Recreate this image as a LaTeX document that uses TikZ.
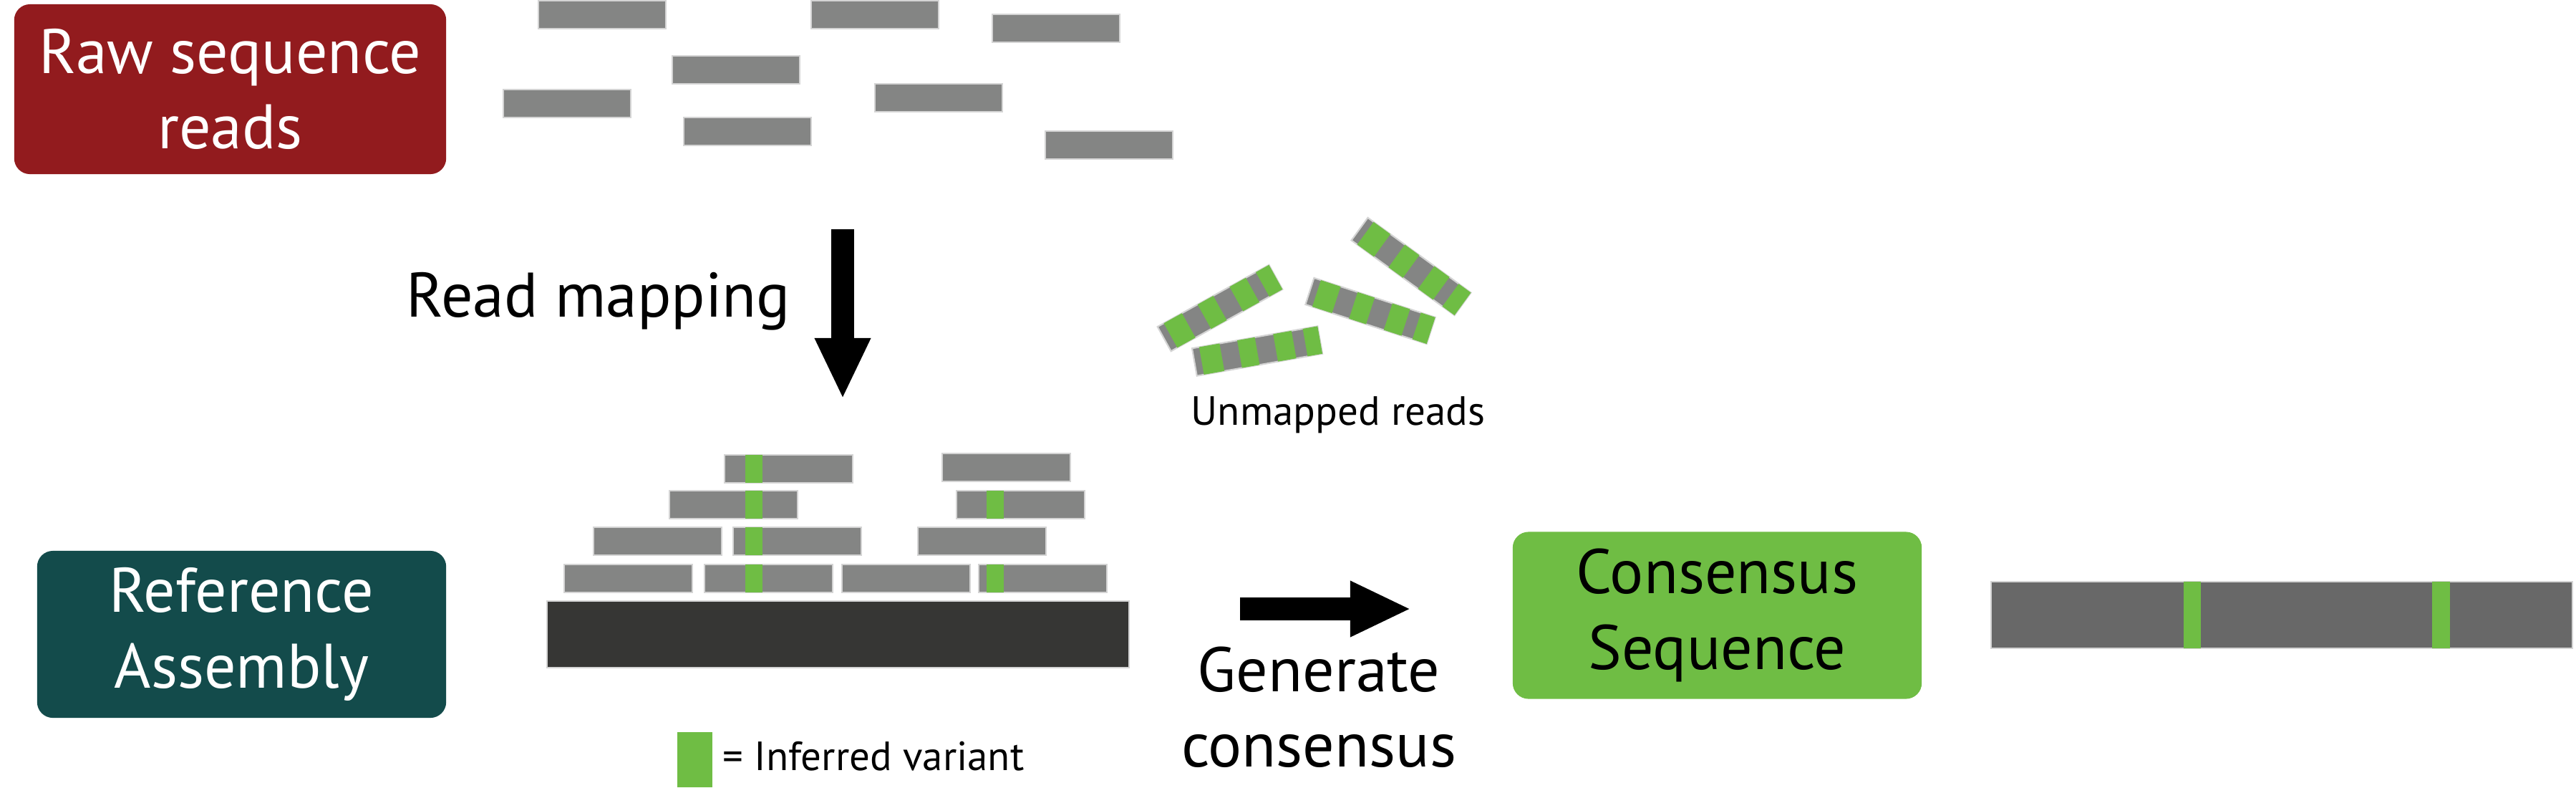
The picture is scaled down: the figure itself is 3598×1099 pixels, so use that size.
\documentclass[tikz,border=0pt]{standalone}
\usepackage{fontspec}
\setmainfont{PT Sans}
\usetikzlibrary{arrows.meta}
\definecolor{rawred}{HTML}{921B1E}
\definecolor{refteal}{HTML}{134B4B}
\definecolor{vargreen}{HTML}{6FBD44}
\definecolor{readgray}{HTML}{848584}
\definecolor{readedge}{HTML}{D4D4D4}
\definecolor{refdark}{HTML}{363634}
\definecolor{consgray}{HTML}{686868}
\tikzset{
  box/.style={rounded corners=0.22cm, minimum width=5.71cm, minimum height=2.33cm,
    align=center, inner sep=0pt, font=\fontsize{25}{30}\selectfont},
  read/.style={fill=readgray, draw=readedge, line width=0.6pt},
  variant/.style={fill=vargreen},
  bigarrow/.style={line width=0.32cm, -{Triangle[width=0.72cm,length=0.85cm]}},
  bigtxt/.style={font=\fontsize{25}{30}\selectfont},
  smalltxt/.style={font=\fontsize{16.2}{19}\selectfont}
}
\begin{document}
\begin{tikzpicture}[x=0.01cm,y=-0.01cm]
\useasboundingbox (0,0) rectangle (3598,1099);
\node[box,fill=rawred,text=white,minimum width=6.03cm,minimum height=2.37cm] (raw) at (321.5,124.5) {Raw sequence\\reads};
\node[box,fill=refteal,text=white] (ref) at (337.5,885.5) {Reference\\Assembly};
\node[box,fill=vargreen] (cons) at (2398.5,859) {Consensus\\Sequence};

\foreach \x/\y in {752/1,1133/1,1386/20,939/78,703/125,1222/117,955/164,1460/183}
  \draw[read] (\x,\y) rectangle ++(178,39);

\node[bigtxt,anchor=base] (maplabel) at (836,442) {Read mapping};
\coordinate (mapTop) at (1177,320);
\coordinate (mapTip) at (1177,557);
\draw[bigarrow] (mapTop) -- (mapTip);

\foreach \cx/\cy/\ang in {1704/430/29,1756/490/10,1914/434/-18,1971/372/-36}{
  \begin{scope}[shift={(\cx,\cy)},rotate=\ang]
    \draw[read] (-89,-19.5) rectangle (89,19.5);
    \foreach \a/\b in {-79/-50,-25/0,26/52,68/89}
      \fill[variant] (\a,-19.5) rectangle (\b,19.5);
  \end{scope}
}
\node[smalltxt,anchor=base] (unmapped) at (1869,593) {Unmapped reads};

\foreach \x/\y in {1012/635,1316/633,935/685,1336/685,829/736,1024/736,1282/736,788/788,984/788,1176/788,1367/788}
  \draw[read] (\x,\y) rectangle ++(179,39);
\foreach \y in {635,685,736,788}
  \fill[variant] (1041,\y) rectangle ++(24,39);
\foreach \y in {685,788}
  \fill[variant] (1378,\y) rectangle ++(24,39);
\draw[fill=refdark,draw=readedge,line width=0.6pt] (764,839) rectangle (1577,932);

\fill[variant] (946,1022) rectangle (995,1099);
\node[smalltxt,anchor=base] (legend) at (1220,1075) {= Inferred variant};

\coordinate (genStart) at (1732,850);
\coordinate (genTip) at (1971,850);
\draw[bigarrow] (genStart) -- (genTip);
\node[bigtxt,anchor=base] (gen1) at (1842,965) {Generate};
\node[bigtxt,anchor=base] (gen2) at (1842,1070) {consensus};

\draw[fill=consgray,draw=readedge,line width=0.6pt] (2781,812) rectangle (3593,905);
\fill[variant] (3050,812) rectangle (3074,905);
\fill[variant] (3397,812) rectangle (3422,905);
\end{tikzpicture}
\end{document}
